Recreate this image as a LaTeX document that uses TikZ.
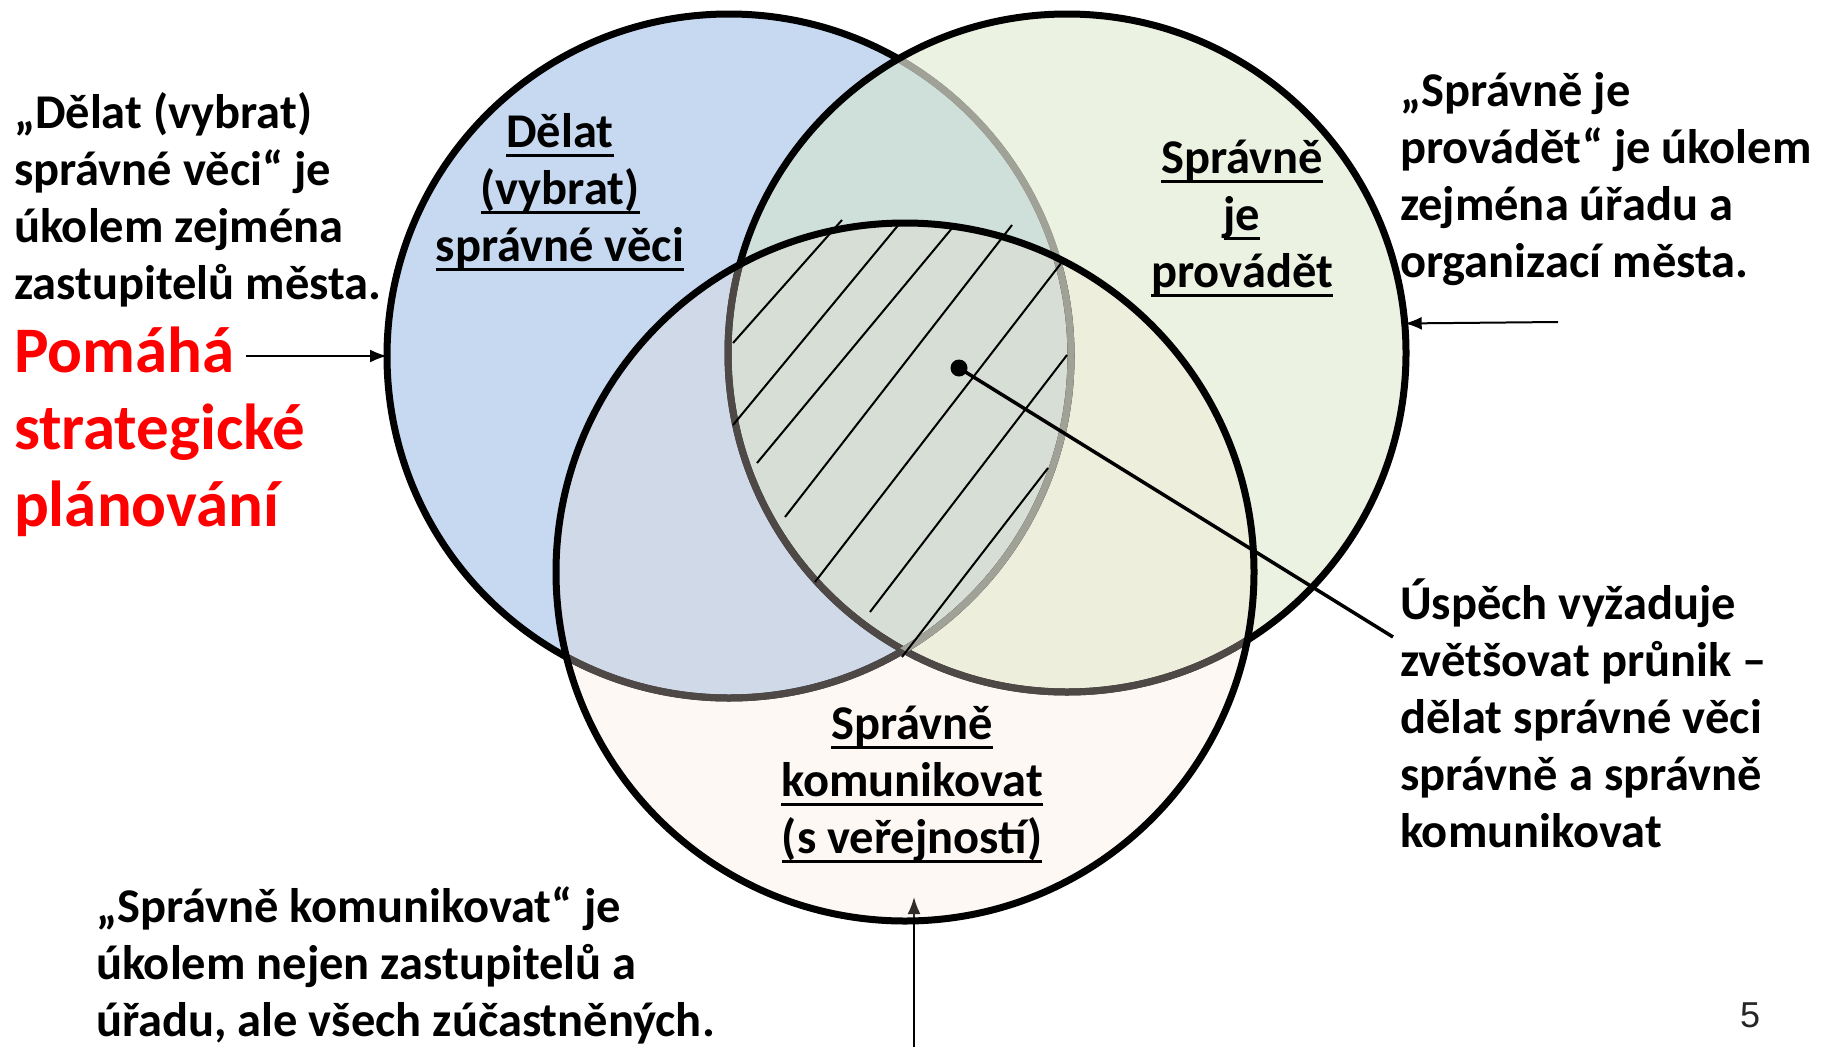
\documentclass[tikz,border=0pt]{standalone}
\usepackage{fontspec}
\setmainfont{Carlito}
\newfontfamily\arialfont{Liberation Sans}
\usetikzlibrary{arrows.meta}
\definecolor{cblue}{RGB}{198,217,241}
\definecolor{cgreen}{RGB}{217,229,197}
\definecolor{cbeige}{RGB}{245,220,200}
\definecolor{ltgray}{RGB}{160,162,152}
\definecolor{dkgray}{RGB}{78,72,70}
\newcommand\myul[1]{\setbox0\hbox{#1}\rlap{\rule[-0.2em]{\wd0}{0.065em}}\box0}
\tikzset{
  venn/.style={circle, minimum size=#1, inner sep=0pt, outer sep=0pt, line width=7pt},
  ring/.style={line width=7pt, draw=#1},
  txt/.style={anchor=base west, inner sep=0pt, outer sep=0pt, font=\bfseries\fontsize{48.5}{57}\selectfont},
  redtxt/.style={anchor=base west, inner sep=0pt, outer sep=0pt, text=red, font=\bfseries\fontsize{65}{77}\selectfont},
  lbl/.style={anchor=base, inner sep=0pt, outer sep=0pt, font=\bfseries\fontsize{48.5}{57}\selectfont},
  arr/.style={line width=2pt, -{Latex[length=17pt,width=13pt]}},
  hatch/.style={line width=2pt},
}
\begin{document}
\begin{tikzpicture}[x=1pt,y=-1pt]
\useasboundingbox (0,0) rectangle (1822,1047);
% circles
\node[venn=684pt, fill=cblue, draw=black] (blue) at (729,356) {};
\node[venn=678pt, fill=cgreen, fill opacity=0.5] (green) at (1067,353) {};
\begin{scope}
  \clip (green.center) circle[radius=339pt];
  \draw[ring=ltgray] (blue.center) circle[radius=342pt];
\end{scope}
\draw[ring=black] (green.center) circle[radius=339pt];
\coordinate (ba) at (914,1047);
\coordinate (bt) at (914,897);
\draw[arr] (ba) -- (bt);
\node[venn=698pt, fill=cbeige, fill opacity=0.2] (beige) at (905,572) {};
\begin{scope}
  \clip (beige.center) circle[radius=349pt];
  \draw[ring=dkgray] (blue.center) circle[radius=342pt];
  \draw[ring=dkgray] (green.center) circle[radius=339pt];
  \clip (green.center) circle[radius=339pt];
  \draw[ring=ltgray] (blue.center) circle[radius=342pt];
\end{scope}
\draw[ring=black] (beige.center) circle[radius=349pt];
% hatching
\draw[hatch] (733,343) -- (842,220);
\draw[hatch] (733,425) -- (900,223);
\draw[hatch] (757,463) -- (953,227);
\draw[hatch] (785,517) -- (1012,225);
\draw[hatch] (815,582) -- (1062,262);
\draw[hatch] (870,612) -- (1067,355);
\draw[hatch] (902,657) -- (1048,468);
% pointer
\node[circle, fill=black, inner sep=0pt, minimum size=17pt] (dot) at (959,368) {};
\coordinate (pe) at (1393,637);
\draw[line width=3.5pt] (dot.center) -- (pe);
% circle labels
\node[lbl] (lblue) at (560,147) {\begin{tabular}[t]{@{}c@{}}\myul{Dělat}\\\myul{(vybrat)}\\\myul{správné věci}\end{tabular}};
\node[lbl] (lgreen) at (1242,173) {\begin{tabular}[t]{@{}c@{}}\myul{Správně}\\\myul{je}\\\myul{provádět}\end{tabular}};
\node[lbl] (lbeige) at (912,739) {\begin{tabular}[t]{@{}c@{}}\myul{Správně}\\\myul{komunikovat}\\\myul{(s veřejností)}\end{tabular}};
% side texts
\node[txt] (tl) at (14,128) {\begin{tabular}[t]{@{}l@{}}„Dělat (vybrat)\\správné věci“ je\\úkolem zejména\\zastupitelů města.\end{tabular}};
\node[redtxt] (tr) at (14,372) {\begin{tabular}[t]{@{}l@{}}Pomáhá\\strategické\\plánování\end{tabular}};
\coordinate (pa) at (246,356);
\draw[arr] (pa) -- (blue.west);
\node[txt] (rt) at (1400,106) {\begin{tabular}[t]{@{}l@{}}„Správně je\\provádět“ je úkolem\\zejména úřadu a\\organizací města.\end{tabular}};
\coordinate (ga) at (1558,322);
\draw[arr] (ga) -- (green.5.2);
\node[txt] (rb) at (1400,619) {\begin{tabular}[t]{@{}l@{}}Úspěch vyžaduje\\zvětšovat průnik –\\dělat správné věci\\správně a správně\\komunikovat\end{tabular}};
\node[txt] (bt1) at (96,922) {\begin{tabular}[t]{@{}l@{}}„Správně komunikovat“ je\\úkolem nejen zastupitelů a\\úřadu, ale všech zúčastněných.\end{tabular}};
\node[font=\arialfont\fontsize{36}{40}\selectfont, text=black!85, inner sep=0pt] (pg) at (1750,1015) {5};
\end{tikzpicture}
\end{document}
